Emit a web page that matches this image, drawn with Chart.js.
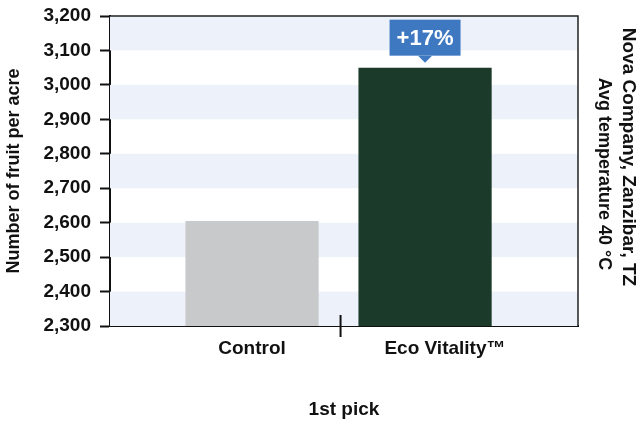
<!DOCTYPE html>
<html><head><meta charset="utf-8">
<script src="https://cdn.jsdelivr.net/npm/chart.js@4/dist/chart.umd.min.js"></script>
<style>html,body{margin:0;padding:0;background:#fff}#wrap{width:641px;height:425px;position:relative}</style>
</head><body><div id="wrap"><canvas id="c"></canvas></div>
<script>
// ---- data ----
const categories = ['Control', 'Eco Vitality\u2122'];
const categoryPositions = [0, 1];
const values = [2605, 3050];
const barColors = ['#c8c9cb', '#1c3a2a'];
const calloutLabels = [null, '+17%'];
const yTickValues = [2300, 2400, 2500, 2600, 2700, 2800, 2900, 3000, 3100, 3200];
const yTitle = 'Number of fruit per acre';
const xTitle = '1st pick';
const sideTitle = 'Nova Company, Zanzibar, TZ';
const sideSubtitle = 'Avg temperature 40 \u00B0C';

const FONT = '"Liberation Sans", Arial, Helvetica, sans-serif';

const bandsPlugin = {
  id: 'bands',
  beforeDatasetsDraw(chart) {
    const {ctx, chartArea: a, scales: {y}} = chart;
    ctx.save();
    for (let i = 0; i < yTickValues.length - 1; i++) {
      const hi = yTickValues[yTickValues.length - 1 - i];
      const lo = yTickValues[yTickValues.length - 2 - i];
      if (i % 2 === 0) {
        const t = y.getPixelForValue(hi), b = y.getPixelForValue(lo);
        ctx.fillStyle = '#edf2fa';
        ctx.fillRect(a.left, t, a.right - a.left, b - t);
      }
    }
    ctx.restore();
  }
};

const framePlugin = {
  id: 'frame',
  afterDatasetsDraw(chart) {
    const {ctx, chartArea: a, scales: {x}} = chart;
    ctx.save();
    ctx.strokeStyle = '#222';
    ctx.lineWidth = 1.5;
    ctx.beginPath();
    ctx.moveTo(a.left, a.top); ctx.lineTo(a.right, a.top); ctx.lineTo(a.right, a.bottom);
    ctx.stroke();
    // category divider
    const dx = x.getPixelForValue((categoryPositions[0] + categoryPositions[1]) / 2) + 2;
    ctx.strokeStyle = '#111';
    ctx.lineWidth = 2;
    ctx.beginPath();
    ctx.moveTo(dx, a.bottom - 11); ctx.lineTo(dx, a.bottom + 11);
    ctx.stroke();
    // callouts
    const meta = chart.getDatasetMeta(0);
    meta.data.forEach((bar, i) => {
      const lab = calloutLabels[i];
      if (!lab) return;
      const w = 71, h = 36;
      const bx = bar.x - w / 2, by = bar.y - 12 - h;
      ctx.fillStyle = '#3d78c0';
      ctx.fillRect(bx, by, w, h);
      ctx.beginPath();
      ctx.moveTo(bar.x - 7, by + h); ctx.lineTo(bar.x + 7, by + h); ctx.lineTo(bar.x, by + h + 7);
      ctx.closePath(); ctx.fill();
      ctx.fillStyle = '#fff';
      ctx.font = 'bold 22px ' + FONT;
      ctx.textAlign = 'center'; ctx.textBaseline = 'middle';
      ctx.fillText(lab, bar.x, by + h / 2 + 1);
    });
    // side titles
    ctx.fillStyle = '#111';
    ctx.textAlign = 'center'; ctx.textBaseline = 'middle';
    ctx.save();
    ctx.translate(628, 157); ctx.rotate(Math.PI / 2);
    ctx.font = 'bold 19px ' + FONT;
    ctx.fillText(sideTitle, 0, 0);
    ctx.restore();
    ctx.save();
    ctx.translate(604, 174); ctx.rotate(Math.PI / 2);
    ctx.font = 'bold 18px ' + FONT;
    ctx.fillText(sideSubtitle, 0, 0);
    ctx.restore();
    ctx.restore();
  }
};

new Chart(document.getElementById('c'), {
  type: 'bar',
  data: {
    datasets: [{
      data: categoryPositions.map((p, i) => ({x: p, y: values[i]})),
      backgroundColor: barColors,
      borderWidth: 0,
      barPercentage: 0.77,
      categoryPercentage: 1
    }]
  },
  options: {
    responsive: true,
    maintainAspectRatio: false,
    animation: false,
    layout: {padding: {top: 16, right: 63, left: 0, bottom: 0}},
    plugins: {legend: {display: false}, tooltip: {enabled: false}},
    scales: {
      x: {
        type: 'linear',
        offset: false,
        min: -0.821,
        max: 1.884,
        afterBuildTicks(s) { s.ticks = [{value: categoryPositions[0]}, {value: categoryPositions[1] + 0.115}]; },
        afterFit(s) { s.height = 99; s.paddingLeft = 0; s.paddingRight = 0; },
        grid: {display: false, drawTicks: false, offset: false},
        border: {display: true, color: '#111', width: 2},
        ticks: {
          padding: 11,
          color: '#111',
          font: {family: FONT, size: 19, weight: 'bold'},
          callback(v, i) { return categories[i]; }
        },
        title: {display: true, text: xTitle, color: '#111', font: {family: FONT, size: 19, weight: 'bold'}, padding: {top: 0, bottom: 4}}
      },
      y: {
        min: yTickValues[0],
        max: yTickValues[yTickValues.length - 1],
        afterBuildTicks(s) { s.ticks = yTickValues.map(v => ({value: v})); },
        afterFit(s) { s.width = 110; s.paddingTop = 0; s.paddingBottom = 0; },
        grid: {display: true, drawOnChartArea: false, drawTicks: true, tickLength: 10, tickWidth: 2, tickColor: '#111'},
        border: {display: true, color: '#111', width: 2},
        ticks: {
          padding: 9,
          color: '#111',
          font: {family: FONT, size: 19, weight: 'bold'},
          callback(v) { return v.toLocaleString('en-US'); }
        },
        title: {display: true, text: yTitle, color: '#111', font: {family: FONT, size: 18, weight: 'bold'}, padding: {top: 3, bottom: 0}}
      }
    }
  },
  plugins: [bandsPlugin, framePlugin]
});
</script>
</body></html>
